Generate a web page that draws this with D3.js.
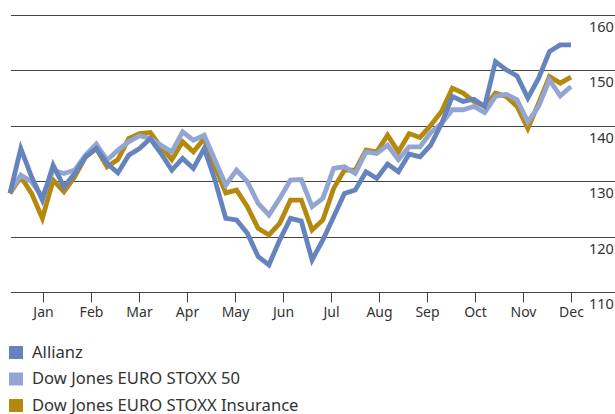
<!DOCTYPE html>
<html>
<head>
<meta charset="utf-8">
<script src="https://cdn.jsdelivr.net/npm/d3@7"></script>
<style>
  body { margin: 0; background: #fff; }
  text { font-family: "Noto Sans", sans-serif; fill: #333; }
</style>
</head>
<body>
<div id="chart-area"></div>
<script>
// weekly index values, 53 points
const allianz = [
    127.8, 135.9, 130.8, 126.6, 132.9, 129.0, 131.4, 134.4, 135.9, 133.2,
    131.5, 134.7, 135.9, 137.7, 135.0, 132.0, 134.1, 132.3, 135.9, 130.2,
    123.3, 123.0, 120.6, 116.4, 114.9, 119.4, 123.3, 122.8, 115.8, 119.4,
    123.6, 127.8, 128.4, 131.7, 130.5, 133.1, 131.7, 134.9, 134.4, 136.5,
    140.4, 145.3, 144.4, 144.8, 143.5, 151.6, 150.1, 149.0, 145.0, 148.6,
    153.4, 154.6, 154.6
];
const stoxx50 = [
    128.1, 131.1, 129.9, 127.2, 132.0, 131.4, 132.0, 134.7, 136.7, 133.8,
    135.6, 137.1, 138.2, 137.7, 136.5, 135.3, 138.9, 137.4, 138.3, 133.8,
    129.3, 132.0, 129.9, 126.0, 123.9, 126.9, 130.2, 130.3, 125.4, 126.9,
    132.3, 132.6, 131.4, 135.3, 135.0, 136.5, 133.9, 136.2, 136.2, 138.8,
    140.4, 142.9, 142.9, 143.5, 142.4, 145.3, 145.7, 144.7, 140.7, 143.5,
    148.3, 145.4, 147.1
];
const insurance = [
    127.8, 130.8, 127.8, 123.3, 130.2, 128.1, 130.8, 134.4, 135.9, 132.6,
    133.9, 137.7, 138.6, 138.8, 136.2, 133.9, 137.1, 135.3, 137.7, 132.6,
    127.9, 128.4, 125.4, 121.5, 120.3, 122.4, 126.6, 126.6, 121.2, 123.0,
    128.7, 132.0, 132.0, 135.6, 135.3, 138.3, 135.3, 138.6, 137.9, 140.1,
    142.6, 146.8, 145.9, 144.4, 143.5, 145.9, 145.3, 143.5, 139.5, 144.1,
    148.9, 147.7, 148.8
];
const months = ["Jan","Feb","Mar","Apr","May","Jun","Jul","Aug","Sep","Oct","Nov","Dec"];
const yTicks = [110, 120, 130, 140, 150, 160];
const seriesNames = ["Allianz", "Dow Jones EURO STOXX 50", "Dow Jones EURO STOXX Insurance"];
const seriesColors = ["#6584bd", "#93a6d3", "#b5890d"];

const width = 615, height = 414;
const plotLeft = 11, plotRight = 571, plotTop = 15, plotBottom = 292;

const svg = d3.select("#chart-area")
    .append("svg")
        .attr("width", width)
        .attr("height", height);

// scales
const x = d3.scaleLinear()
    .domain([0, allianz.length - 1])
    .range([10, plotRight]);

const y = d3.scaleLinear()
    .domain([110, 160])
    .range([plotBottom, plotTop]);

const monthX = d3.scalePoint()
    .domain(months)
    .range([43, 571]);

// grid lines + right side labels
const grid = svg.append("g");
grid.selectAll("line")
    .data(yTicks)
    .enter().append("line")
        .attr("x1", plotLeft)
        .attr("x2", width)
        .attr("y1", d => Math.round(y(d)) + 0.5)
        .attr("y2", d => Math.round(y(d)) + 0.5)
        .attr("stroke", "#444")
        .attr("stroke-width", 1.2);

grid.selectAll("text")
    .data(yTicks)
    .enter().append("text")
        .attr("x", 589)
        .attr("y", d => y(d) + 17)
        .attr("font-size", "14.5px")
        .text(d => d);

// x axis ticks
const xAxisCall = d3.axisBottom(monthX)
    .tickSize(10)
    .tickPadding(5);
const xAxis = svg.append("g")
    .attr("transform", "translate(0," + (Math.round(plotBottom) + 0.5) + ")")
    .call(xAxisCall);
xAxis.select(".domain").remove();
xAxis.selectAll("line").attr("stroke", "#444");
xAxis.selectAll("text")
    .attr("font-size", "14px")
    .attr("font-family", "Noto Sans, sans-serif")
    .attr("fill", "#333");

// lines: insurance at the back, Allianz on top
const line = d3.line()
    .x((d, i) => x(i))
    .y(d => y(d));

const data = [insurance, stoxx50, allianz];
const colors = [seriesColors[2], seriesColors[1], seriesColors[0]];

svg.selectAll("path.series")
    .data(data)
    .enter().append("path")
        .attr("class", "series")
        .attr("d", line)
        .attr("fill", "none")
        .attr("stroke", (d, i) => colors[i])
        .attr("stroke-width", 4.8)
        .attr("stroke-linejoin", "miter");

// legend
const legend = svg.append("g")
    .attr("transform", "translate(9,346)");
const rows = legend.selectAll("g")
    .data(seriesNames)
    .enter().append("g")
        .attr("transform", (d, i) => "translate(0," + (i * 26.5) + ")");
rows.append("rect")
    .attr("width", 14)
    .attr("height", 13)
    .attr("fill", (d, i) => seriesColors[i]);
rows.append("text")
    .attr("x", 23)
    .attr("y", 11.5)
    .attr("font-size", "16.6px")
    .text(d => d);
</script>
</body>
</html>
